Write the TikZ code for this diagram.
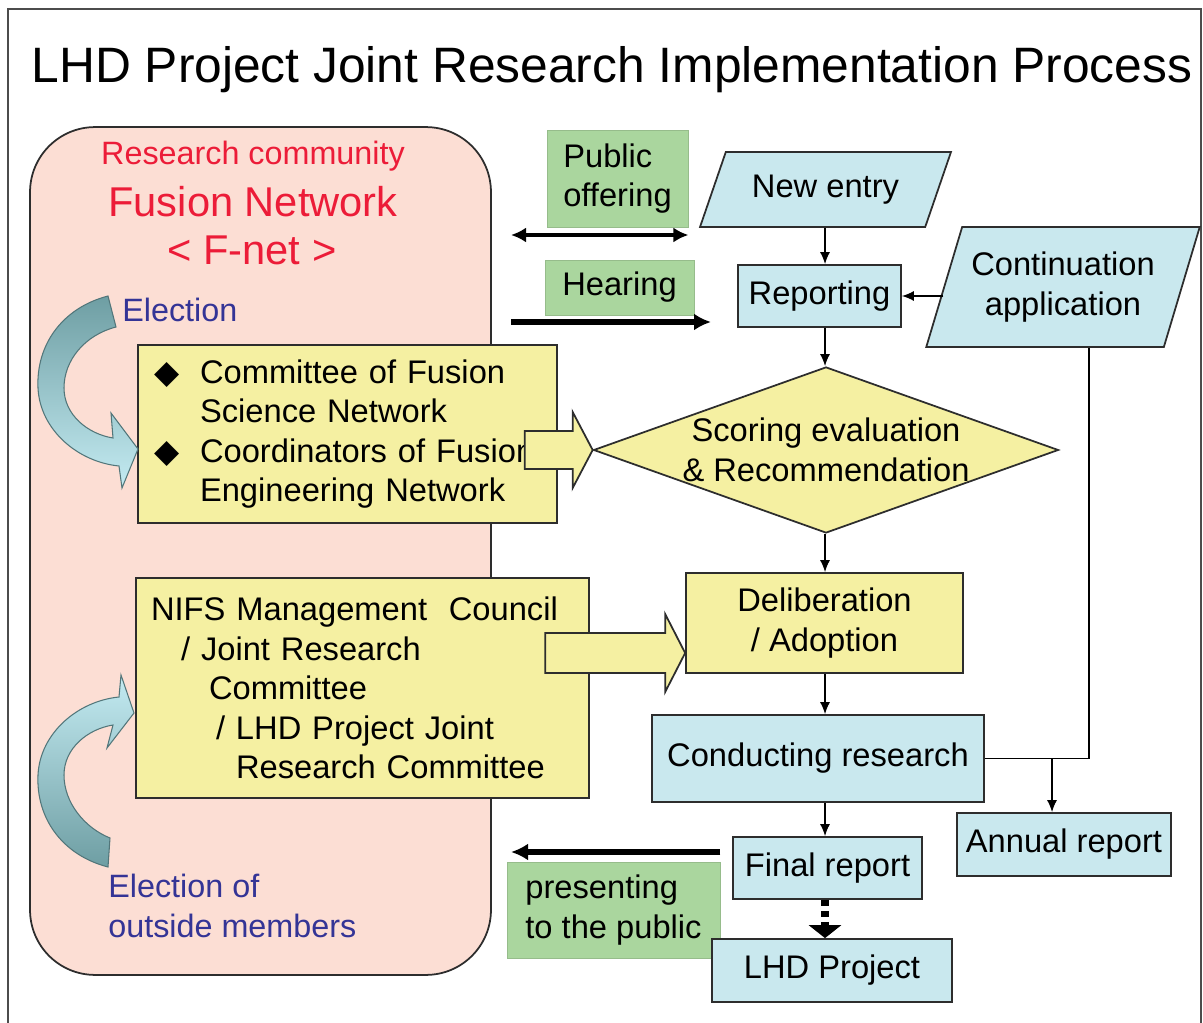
\documentclass[tikz,border=0pt]{standalone}
\usepackage{fontspec}
\setmainfont{Liberation Sans}
\newfontfamily\symfont{DejaVu Sans}
\usepackage{xcolor}
\usepackage{tikz}
\usetikzlibrary{arrows.meta,shapes.geometric,calc}

\definecolor{fnetpink}{RGB}{252,222,212}
\definecolor{boxyellow}{RGB}{245,240,162}
\definecolor{boxblue}{RGB}{201,232,238}
\definecolor{boxgreen}{RGB}{170,214,158}
\definecolor{fnetred}{RGB}{236,28,56}
\definecolor{elecblue}{RGB}{52,52,150}
\definecolor{tealdark}{RGB}{110,158,163}
\definecolor{teallight}{RGB}{196,235,242}
\definecolor{edge}{RGB}{45,45,45}

\tikzstyle{blk}=[draw=edge, line width=1pt, inner sep=0pt, align=center,% plain flow box
font=\fontsize{18.6}{22.5}\selectfont]
\tikzstyle{bluebox}=[blk, rectangle, fill=boxblue]
\tikzstyle{yellowbox}=[blk, rectangle, fill=boxyellow]
\tikzstyle{slanted}=[blk, trapezium, trapezium stretches=true, fill=boxblue]
\tikzstyle{greenbox}=[rectangle, fill=boxgreen, draw=boxgreen!88!black, line width=0.5pt,
inner sep=0pt, align=left, font=\fontsize{18.6}{22.5}\selectfont]
\tikzstyle{fnetbox}=[rectangle, rounded corners=1.3cm, fill=fnetpink, draw=edge, line width=1pt]
\tikzstyle{redtxt}=[text=fnetred, inner sep=0pt, font=\fontsize{18.4}{22}\selectfont]
\tikzstyle{bluetxt}=[text=elecblue, inner sep=0pt, font=\fontsize{18.4}{22.5}\selectfont]
\tikzstyle{flow}=[-{Latex[length=2.4mm,width=2mm]}, line width=0.8pt]
\tikzstyle{fat}=[-{Latex[length=3.4mm,width=3.4mm]}, line width=3pt]
\tikzstyle{fatarr}=[draw=edge, line width=1pt, fill=boxyellow]
\tikzstyle{curvearr}=[draw=tealdark!75!black, line width=0.6pt]

% block arrow: tip, length, half head, half shaft
\newcommand{\fatarrow}[4]{%
  \draw[fatarr] (#1) -- ++(-20,-#3) -- ++(0,#3-#4) -- ++(-#2+20,0) -- ++(0,2*#4)
    -- ++(#2-20,0) -- ++(0,#3-#4) -- cycle;}

\begin{document}
\begin{tikzpicture}[x=0.02cm, y=-0.02cm]
\useasboundingbox (0,0) rectangle (1203,1023);
\draw[draw=black!70, line width=1.3pt] (8,1023) -- (8,9) -- (1201,9) -- (1201,1023);

\node[anchor=base, inner sep=0pt, font=\fontsize{28.3}{32}\selectfont] (title) at (612,83)
  {LHD Project Joint Research Implementation Process};

% research community side
\node[fnetbox, minimum width=9.22cm, minimum height=16.96cm] (fnet) at (260.5,551) {};
\node[redtxt, anchor=base] (community) at (253,165) {Research community};
\node[redtxt, anchor=base, font=\fontsize{23.7}{28}\selectfont] (fusionnet) at (253,217) {Fusion Network};
\node[redtxt, anchor=base, font=\fontsize{23.7}{28}\selectfont] (fnetname) at (252,265) {< F-net >};
\node[bluetxt, anchor=base west] (elec) at (122,322) {Election};
\node[bluetxt, anchor=north west, align=left] (outside) at (108,874) {Election of\\outside members};

\node[yellowbox, minimum width=8.38cm, minimum height=3.56cm, text width=7.74cm, align=left] (comm) at (347.5,434)
  {\makebox[0.92cm][l]{\symfont◆}Committee of Fusion\\
   \hspace*{0.92cm}Science Network\\
   \makebox[0.92cm][l]{\symfont◆}Coordinators of Fusion\\
   \hspace*{0.92cm}Engineering Network};
\node[yellowbox, minimum width=9.06cm, minimum height=4.4cm, text width=8.46cm, align=left] (nifs) at (362.5,688)
  {NIFS Management~ Council\\
   \hspace*{0.6cm}/ Joint Research\\
   \hspace*{1.16cm}Committee\\
   \hspace*{1.3cm}/ LHD Project Joint\\
   \hspace*{1.7cm}Research Committee};

% election arrows
\draw[curvearr, top color=tealdark, bottom color=teallight]
  (108,296) .. controls (62,308) and (36,345) .. (38,388)
  .. controls (40,430) and (78,462) .. (119,466) -- (122,488) -- (138,449) -- (111,413) -- (113,438)
  .. controls (88,434) and (64,415) .. (64,388) .. controls (64,360) and (85,335) .. (116,327) -- cycle;
\draw[curvearr, top color=teallight, bottom color=tealdark]
  (108,867) .. controls (62,855) and (36,818) .. (38,775)
  .. controls (40,733) and (78,701) .. (119,697) -- (121,675) -- (134,713) -- (107,748) -- (113,725)
  .. controls (88,729) and (64,748) .. (64,775) .. controls (64,803) and (85,828) .. (110,838) -- cycle;

% flow chart
\node[greenbox, minimum width=2.82cm, minimum height=1.94cm] (offer) at (617.5,178.5) {Public\\offering};
\node[greenbox, minimum width=2.98cm, minimum height=1.1cm] (hearing) at (619.5,287.5) {Hearing};
\node[greenbox, minimum width=4.26cm, minimum height=1.92cm] (present) at (613.5,910) {presenting\\to the public};

\node[slanted, minimum width=5.02cm, minimum height=1.5cm, trapezium left angle=57, trapezium right angle=123] (newentry) at (825.5,189.5) {New entry};
\node[slanted, minimum width=5.48cm, minimum height=2.4cm, trapezium left angle=65, trapezium right angle=115] (cont) at (1063,287) {Continuation\\application};
\node[bluebox, minimum width=3.26cm, minimum height=1.24cm] (report) at (819.5,296) {Reporting};
\node[blk, diamond, aspect=2.8, fill=boxyellow, minimum width=9.24cm, minimum height=3.32cm] (score) at (826,450)
  {Scoring evaluation\\\& Recommendation};
\node[yellowbox, minimum width=5.54cm, minimum height=2.0cm] (delib) at (824.5,623) {Deliberation\\/ Adoption};
\node[bluebox, minimum width=6.64cm, minimum height=1.74cm] (conduct) at (818,758.5) {Conducting research};
\node[bluebox, minimum width=4.28cm, minimum height=1.26cm] (annual) at (1064,844.5) {Annual report};
\node[bluebox, minimum width=3.78cm, minimum height=1.24cm] (final) at (827.5,868) {Final report};
\node[bluebox, minimum width=4.8cm, minimum height=1.26cm] (lhdproj) at (832,970.5) {LHD Project};

\fatarrow{score.west}{68}{38}{19}
\fatarrow{$(delib.west)+(0,30)$}{140}{39}{20}

\coordinate (axis) at (825,0);
\coordinate (turn) at (1089,0);
\coordinate (split) at (1052,0);
\coordinate (pubL) at (511,235);
\coordinate (hearL) at (511,322);
\coordinate (hearR) at (711,322);
\coordinate (presL) at (511,852);

\draw[flow] (newentry.south -| axis) -- (report.north -| axis);
\draw[flow] (report.south -| axis) -- (score.north -| axis);
\draw[flow] (score.south -| axis) -- (delib.north -| axis);
\draw[flow] (delib.south -| axis) -- (conduct.north -| axis);
\draw[flow] (conduct.south -| axis) -- (final.north -| axis);
\draw[line width=5pt, dash pattern=on 0.12cm off 0.1cm, -{Triangle[width=0.64cm,length=0.26cm]}]
  (final.south -| axis) -- (lhdproj.north -| axis);
\draw[flow] (report.east -| cont.west) -- (report.east);
\draw[line width=0.8pt] (conduct.east) -- (conduct.east -| turn) -- (turn |- cont.south);
\draw[flow] (conduct.east -| split) -- (split |- annual.north);

\draw[{Latex[length=3mm,width=3mm]}-{Latex[length=3mm,width=3mm]}, line width=2.2pt] (pubL) -- (pubL -| offer.east);
\draw[fat] (hearL) -- (hearR);
\draw[fat] (presL -| present.east) -- (presL);
\end{tikzpicture}
\end{document}
